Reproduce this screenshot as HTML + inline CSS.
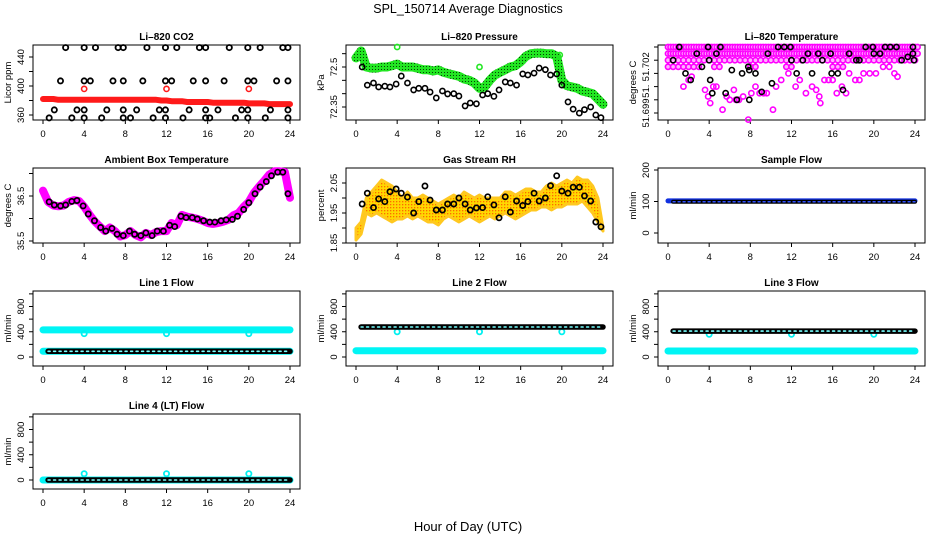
<!DOCTYPE html>
<html><head><meta charset="utf-8"><title>SPL_150714 Average Diagnostics</title>
<style>
html,body{margin:0;padding:0;background:#fff;}
svg{display:block;font-family:"Liberation Sans",sans-serif;}
.tt{font-size:10px;font-weight:bold;text-anchor:middle;}
.tk{font-size:9.5px;text-anchor:middle;}
</style></head>
<body>
<svg id="chart" width="936" height="540" viewBox="0 0 936 540" xmlns="http://www.w3.org/2000/svg">
<defs>
<pattern id="rhpat" width="3" height="3" patternUnits="userSpaceOnUse"><rect width="3" height="3" fill="#ffd800"/><rect width="1.3" height="1.3" fill="#ff6a00"/></pattern>
<pattern id="prpat" width="3" height="3" patternUnits="userSpaceOnUse"><rect width="3" height="3" fill="#22e622"/><rect width="1" height="1" fill="#064006"/></pattern>
</defs>
<text x="468" y="13" font-size="12.5" text-anchor="middle">SPL_150714  Average Diagnostics</text>
<text x="468" y="531" font-size="13" text-anchor="middle">Hour of Day (UTC)</text>
</svg>
<script>
// ---------- data ----------
const halfHours=[0,0.5,1,1.5,2,2.5,3,3.5,4,4.5,5,5.5,6,6.5,7,7.5,8,8.5,9,9.5,10,10.5,11,11.5,12,12.5,13,13.5,14,14.5,15,15.5,16,16.5,17,17.5,18,18.5,19,19.5,20,20.5,21,21.5,22,22.5,23,23.5,24];
const hours=[0,1,2,3,4,5,6,7,8,9,10,11,12,13,14,15,16,17,18,19,20,21,22,23,24];
const flowBlackHours=[0.5,1,2,3,4,5,6,7,8,9,10,11,12,13,14,15,16,17,18,19,20,21,22,23,24];
const hoursBlack=[0.6,1.1,1.7,2.2,2.8,3.3,3.9,4.4,5.0,5.6,6.1,6.7,7.2,7.8,8.4,8.9,9.5,10.0,10.6,11.1,11.7,12.3,12.8,13.4,13.9,14.5,15.0,15.6,16.2,16.7,17.3,17.8,18.4,18.9,19.5,20.0,20.6,21.1,21.7,22.2,22.8,23.3,23.8];
const xTicks=[0,4,8,12,16,20,24];

// CO2
const co2Red=[382,382,382,381,381,381,381,381,381,381,381,381,381,381,381,381,381,381,381,381,381,381,381,380,380,379,379,379,378,378,378,378,378,377,377,377,377,377,377,377,376,376,376,376,375,375,375,375,375];
const co2RedOutHours=[4,12,20];
const co2RedOut=[396,396,396];
const co2BlackHours=[2.2,4,5.1,7.3,7.8,10.1,11.9,13,15.2,15.8,18.1,19.9,21.1,23.3,23.8, 1.7,4,4.6,6.8,7.8,9.7,11.9,12.5,14.6,15.8,17.6,19.9,20.5,22.7,23.8, 1.1,3.3,4,6.2,7.8,9.1,11.3,11.9,14.2,15.8,17,19.3,19.9,22.1,23.8, 0.6,2.8,4,5.7,7.8,8.5,10.7,11.9,13.6,15.8,16.2,18.7,19.9,21.6,23.8];
const co2Black=[453,453,453,453,453,453,453,453,453,453,453,453,453,453,453, 407,407,407,407,407,407,407,407,407,407,407,407,407,407,407, 367,367,367,367,367,367,367,367,367,367,367,367,367,367,367, 356,356,356,356,356,356,356,356,356,356,356,356,356,356,356];
// Pressure
const presGreen=[72.534,72.56,72.50,72.496,72.496,72.50,72.50,72.505,72.511,72.50,72.50,72.50,72.495,72.49,72.49,72.485,72.489,72.48,72.475,72.47,72.465,72.455,72.45,72.44,72.42,72.425,72.45,72.47,72.48,72.49,72.50,72.505,72.52,72.54,72.55,72.552,72.552,72.55,72.55,72.54,72.45,72.43,72.425,72.42,72.41,72.405,72.40,72.38,72.36];
const presBlack=[72.50,72.432,72.44,72.425,72.428,72.425,72.436,72.466,72.44,72.414,72.42,72.42,72.406,72.384,72.41,72.399,72.40,72.391,72.354,72.365,72.362,72.395,72.40,72.39,72.414,72.444,72.44,72.432,72.474,72.47,72.477,72.496,72.49,72.47,72.474,72.432,72.369,72.342,72.327,72.34,72.35,72.32,72.31];
const presGreenOutHours=[4,12,19.8];
const presGreenOut=[72.575,72.50,72.545];
// Li-820 temperature (quantized levels below the top, 0 = warmest step)
const tempDense=[3,3,3,3,3,3,3,2,2,3,3,2,2,2,2,2,3,3,2,2,2,2,2,3,3,2,2,2,2,2,2,2,3,3,3,2,2,2,2,2,2,2,2,2,2,2,2,2,2];
const tempScatHours=[1.5,2.0,2.3,3.6,3.9,4.1,4.4,4.7,5.3,5.7,6.0,6.4,6.6,6.9,7.3,7.8,8.1,8.5,8.9,9.3,9.6,10.2,10.5,11.0,11.7,12.4,12.8,13.4,14.0,14.4,14.7,14.8,15.2,15.6,16.0,16.4,16.9,17.3,17.6,18.2,18.6,19.0,19.6,20.2,20.9,21.5,22.0,22.3];
const tempScat=[6,5,4.5,6.5,7.5,8.5,6,6,9.5,7.5,8,6.5,8,8,7.5,11,7,6,7,7,7,9.5,6,5,4,6,5,7,6,6.5,7.5,8.5,5,5,5,7,6,7,4,5,5,4,4,4,3,3,4,4.5];
const tempBlackHours=[0.5,1.1,1.7,2.2,2.8,3.3,3.9,4,4.1,4.3,4.7,5.1,5.6,6.2,6.7,7.2,7.8,7.9,7.9,8.5,9.1,9.7,10.1,10.7,11.3,11.9,12,12.5,13.1,13.6,14,14.6,15,15.8,15.9,16.5,17,17.6,18.3,18.6,19.2,19.9,20,20.6,21.1,21.6,22.2,22.7,23.3,23.8,23.8,23.9];
const tempBlack=[2,0,4,5,1,3,0,2,5,7,1,0,7,3.5,8,4,3,3.5,8,4,6.8,1,5.5,0,0,0,2,4,2,1,4,1,2,1,4,4,6.5,1,2,2,0,0,1,1,0,0,0,2,1.5,0,1,2];
const tempTickLevels=[0,2,4,6,8,10];
const tempLabels=["51.702","51.","51.699"];
const tempLabelLevels=[3,6.7,10];
// Ambient box temperature
const ambMag=[36.62,36.37,36.29,36.27,36.29,36.37,36.41,36.39,36.26,36.09,35.94,35.83,35.72,35.8,35.72,35.6,35.63,35.72,35.63,35.58,35.68,35.63,35.7,35.72,35.72,35.9,35.85,36.08,36.04,36.02,35.99,35.95,35.9,35.88,35.9,35.93,35.97,36.07,36.12,36.26,36.37,36.57,36.71,36.84,36.98,37.05,37.05,37.03,36.46];
const ambBlack=[36.37,36.3,36.28,36.3,36.38,36.4,36.28,36.1,35.95,35.8,35.72,35.78,35.65,35.62,35.72,35.65,35.62,35.68,35.62,35.72,35.72,35.85,35.82,36.05,36.02,36.02,35.99,35.95,35.92,35.92,35.95,35.97,35.98,36.05,36.2,36.35,36.55,36.7,36.82,36.95,37.03,37.03,36.55];
// Gas stream RH
const rhUpper=[1.9,1.92,2.0,2.02,2.04,2.06,2.05,2.04,2.02,2.0,2.02,2.0,2.0,2.01,2.0,1.99,1.98,1.99,2.0,2.01,2.0,2.02,2.01,2.0,2.01,2.0,2.0,2.0,2.0,2.02,2.02,2.01,2.02,2.03,2.03,2.02,2.02,2.04,2.05,2.04,2.05,2.06,2.05,2.07,2.06,2.06,2.04,2.0,1.9];
const rhLower=[1.86,1.88,1.95,1.94,1.95,1.94,1.93,1.92,1.93,1.93,1.94,1.93,1.94,1.93,1.92,1.92,1.91,1.93,1.94,1.93,1.92,1.93,1.94,1.93,1.92,1.93,1.94,1.93,1.94,1.95,1.94,1.93,1.94,1.95,1.96,1.96,1.97,1.97,1.96,1.97,1.97,1.98,1.98,1.98,1.99,1.97,1.95,1.92,1.89];
const rhBlack=[1.98,2.016,1.968,1.997,1.988,2.021,2.03,2.016,2.003,1.95,1.988,2.04,1.993,1.96,1.96,1.98,1.98,2.0,1.98,1.96,1.967,1.968,2.004,1.977,1.934,2.004,1.953,1.99,1.975,1.988,2.016,1.99,2.0,2.041,2.074,2.023,2.016,2.036,2.036,2.007,1.99,1.92,1.904];
// Sample flow
const sampleBlue=[102,102,102,102,102,102,102,102,102,102,102,102,102,102,102,102,102,102,102,102,102,102,102,102,102];
const sampleBlack=[99,99,99,99,99,99,99,99,99,99,99,99,99,99,99,99,99,99,99,99,99,99,99,99,99];
// Line flows (hourly)
const line1Cyan=[430,430,430,430,430,430,430,430,430,430,430,430,430,430,430,430,430,430,430,430,430,430,430,430,430];
const line1CyanLow=[90,90,90,90,90,90,90,90,90,90,90,90,90,90,90,90,90,90,90,90,90,90,90,90,90];
const line1Black=[90,90,90,90,90,90,90,90,90,90,90,90,90,90,90,90,90,90,90,90,90,90,90,90,90];
const line2Cyan=[100,100,100,100,100,100,100,100,100,100,100,100,100,100,100,100,100,100,100,100,100,100,100,100,100];
const line2Black=[475,475,475,475,475,475,475,475,475,475,475,475,475,475,475,475,475,475,475,475,475,475,475,475,475];
const line3Cyan=[95,95,95,95,95,95,95,95,95,95,95,95,95,95,95,95,95,95,95,95,95,95,95,95,95];
const line3Black=[410,410,410,410,410,410,410,410,410,410,410,410,410,410,410,410,410,410,410,410,410,410,410,410,410];
const line4Cyan=[0,0,0,0,0,0,0,0,0,0,0,0,0,0,0,0,0,0,0,0,0,0,0,0,0];
const line4Black=[0,0,0,0,0,0,0,0,0,0,0,0,0,0,0,0,0,0,0,0,0,0,0,0,0];
const dipHours=[4,12,20];
const line1Dip=[370,370,370];
const line2Dip=[400,400,400];
const line3Dip=[360,360,360];
const line4Dip=[100,100,100];
const flowTicks=[0,200,400,600,800,1000];
const flowLabels=[0,400,800];

// ---------- drawing ----------
const NS='http://www.w3.org/2000/svg';
const svg=document.getElementById('chart');
const PW=267, PH=75;
function el(tag,attrs,parent){const e=document.createElementNS(NS,tag);for(const k in attrs)e.setAttribute(k,attrs[k]);(parent||svg).appendChild(e);return e;}
function linY(v1,y1,v2,y2){return v=>y1+(v-v1)*(y2-y1)/(v2-v1);}
function makeX(L){return h=>L+10+h*(PW-20)/24;}

function panel(name,title,ytitle,L,T,y,yTicks,yLabels,labelText){
  const g=el('g',{});
  
  
  const x=makeX(L);
  const t=el('text',{x:L+PW/2,y:T-5,class:'tt'},g);t.textContent=title;
  
  
  const box=el('rect',{x:L,y:T,width:PW,height:PH,fill:'none',stroke:'#000','stroke-width':1},g);
  
  
  const xa=el('g',{},g);
  
  
  el('line',{x1:x(0),x2:x(24),y1:T+PH,y2:T+PH,stroke:'#000'},xa);
  xTicks.forEach(v=>{el('line',{x1:x(v),x2:x(v),y1:T+PH,y2:T+PH+4,stroke:'#000'},xa);
    const tx=el('text',{x:x(v),y:T+PH+17,class:'tk'},xa);tx.textContent=v;});
  const ya=el('g',{},g);
  
  
  const ys=yTicks.map(y);
  el('line',{x1:L,x2:L,y1:Math.min(...ys),y2:Math.max(...ys),stroke:'#000'},ya);
  ys.forEach(yy=>el('line',{x1:L-4,x2:L,y1:yy,y2:yy,stroke:'#000'},ya));
  yLabels.forEach((v,i)=>{const yy=y(v);const tx=el('text',{x:L-9,y:yy,class:'tk',transform:`rotate(-90 ${L-9} ${yy})`},ya);tx.textContent=labelText?labelText[i]:v;});
  const yt=el('text',{x:L-22,y:T+PH/2,class:'tk',transform:`rotate(-90 ${L-22} ${T+PH/2})`},g);yt.textContent=ytitle;
  
  
  const plot=el('g',{},g);
  
  
  return {g:plot,x,y};
}
function band(P,hs,vs,color,w,name){
  const pts=hs.map((h,i)=>P.x(h).toFixed(1)+','+P.y(vs[i]).toFixed(1)).join(' ');
  const pl=el('polyline',{points:pts,fill:'none',stroke:color,'stroke-width':w,'stroke-linejoin':'round','stroke-linecap':'round'},P.g);
  
  
  return pl;
}
function dots(P,hs,vs,stroke,fill,r,sw,name){
  const gg=el('g',{},P.g);
  
  
  hs.forEach((h,i)=>{if(vs[i]===undefined)return;
    const c=el('circle',{cx:P.x(h),cy:P.y(vs[i]),r:r,fill:fill,stroke:stroke,'stroke-width':sw},gg);
    
    });
}

// 1 CO2
let P=panel('co2-panel','Li–820 CO2','Licor ppm',33,45,linY(360,115,440,57),[360,380,400,420,440],[360,400,440]);
band(P,halfHours,co2Red,'#ff1a1a',6,'co2-red-band');
dots(P,co2RedOutHours,co2RedOut,'#ff1a1a','none',2.6,1.6,'co2-red-outliers');
dots(P,co2BlackHours,co2Black,'#000','none',2.6,1.8,'co2-black-points');

// 2 Pressure
P=panel('pressure-panel','Li–820 Pressure','kPa',346,45,linY(72.35,107,72.50,67),[72.35,72.40,72.45,72.50,72.55],[72.35,72.50]);
band(P,halfHours,presGreen,'url(#prpat)',9,'pressure-green-band');
dots(P,presGreenOutHours,presGreenOut,'#22e622','none',2.6,1.6,'pressure-green-outliers');
dots(P,hoursBlack,presBlack,'#000','none',2.6,1.6,'pressure-black-points');

// 3 Li-820 temperature
const tempY=linY(0,47,1,53.6);
P=panel('li820-temp-panel','Li–820 Temperature','degrees C',658,45,tempY,tempTickLevels,tempLabelLevels,tempLabels);
{const gg=el('g',{},P.g);
 
 
 halfHours.forEach((h,i)=>{for(let k=0;k<=tempDense[i];k++){
   const c=el('circle',{cx:P.x(h),cy:P.y(k),r:2.6,fill:'#ffb0ff',stroke:'#ff00ff','stroke-width':1.6},gg);
   
   
   if(k<2){const c2=el('circle',{cx:P.x(h+0.25),cy:P.y(k),r:2.6,fill:'#ffb0ff',stroke:'#ff00ff','stroke-width':1.6},gg);
   
   }}});}
dots(P,tempScatHours,tempScat,'#ff00ff','none',2.6,1.6,'temp-magenta-scatter');
dots(P,tempBlackHours,tempBlack,'#000','none',2.6,1.6,'temp-black-points');

// 4 Ambient
P=panel('ambient-temp-panel','Ambient Box Temperature','degrees C',33,168,linY(35.5,241,36.5,196),[35.5,36,36.5,37],[35.5,36.5]);
band(P,halfHours,ambMag,'#ff00ff',8,'ambient-magenta-band');
dots(P,hoursBlack,ambBlack,'#000','none',2.6,1.7,'ambient-black-points');

// 5 RH
P=panel('rh-panel','Gas Stream RH','percent',346,168,linY(1.85,243,2.05,183),[1.85,1.90,1.95,2.00,2.05],[1.85,1.95,2.05]);
{const up=halfHours.map((h,i)=>P.x(h).toFixed(1)+','+P.y(rhUpper[i]).toFixed(1));
 const lo=halfHours.map((h,i)=>P.x(h).toFixed(1)+','+P.y(rhLower[i]).toFixed(1)).reverse();
 const pg=el('polygon',{points:up.concat(lo).join(' '),fill:'url(#rhpat)',stroke:'#ffc820','stroke-width':3,'stroke-linejoin':'round'},P.g);
 
 }
dots(P,hoursBlack,rhBlack,'#000','none',2.6,1.7,'rh-black-points');

// 6 Sample flow
P=panel('sample-flow-panel','Sample Flow','ml/min',658,168,linY(0,233,200,170),[0,100,200],[0,100,200]);
band(P,hours,sampleBlue,'#1030e0',5,'sample-blue-band');
band(P,flowBlackHours,sampleBlack,'#000',4,'sample-black-band');
band(P,flowBlackHours,sampleBlack,'#3050ff',1.5,'sample-black-dots').setAttribute('stroke-dasharray','2 3');

// 7-10 line flows
function flowPanel(name,title,L,T,cyan,black,dip,cyanLow){
  const P=panel(name,title,'ml/min',L,T,linY(0,T+66,800,T+15.5),flowTicks,flowLabels);
  band(P,hours,cyan,'#00f5f5',7,name+'-cyan-band');
  if(cyanLow)band(P,hours,cyanLow,'#00f5f5',7,name+'-cyan-low-band');
  dots(P,dipHours,dip,'#00f0f0','none',2.6,1.8,name+'-cyan-dips');
  band(P,flowBlackHours,black,'#000',5.5,name+'-black-band');
  band(P,flowBlackHours,black,'#7ff',1.6,name+'-black-centers').setAttribute('stroke-dasharray','2 3.5');
}
flowPanel('line1-flow-panel','Line 1 Flow',33,291,line1Cyan,line1Black,line1Dip,line1CyanLow);
flowPanel('line2-flow-panel','Line 2 Flow',346,291,line2Cyan,line2Black,line2Dip);
flowPanel('line3-flow-panel','Line 3 Flow',658,291,line3Cyan,line3Black,line3Dip);
flowPanel('line4-flow-panel','Line 4 (LT) Flow',33,414,line4Cyan,line4Black,line4Dip);
</script>
</body></html>
